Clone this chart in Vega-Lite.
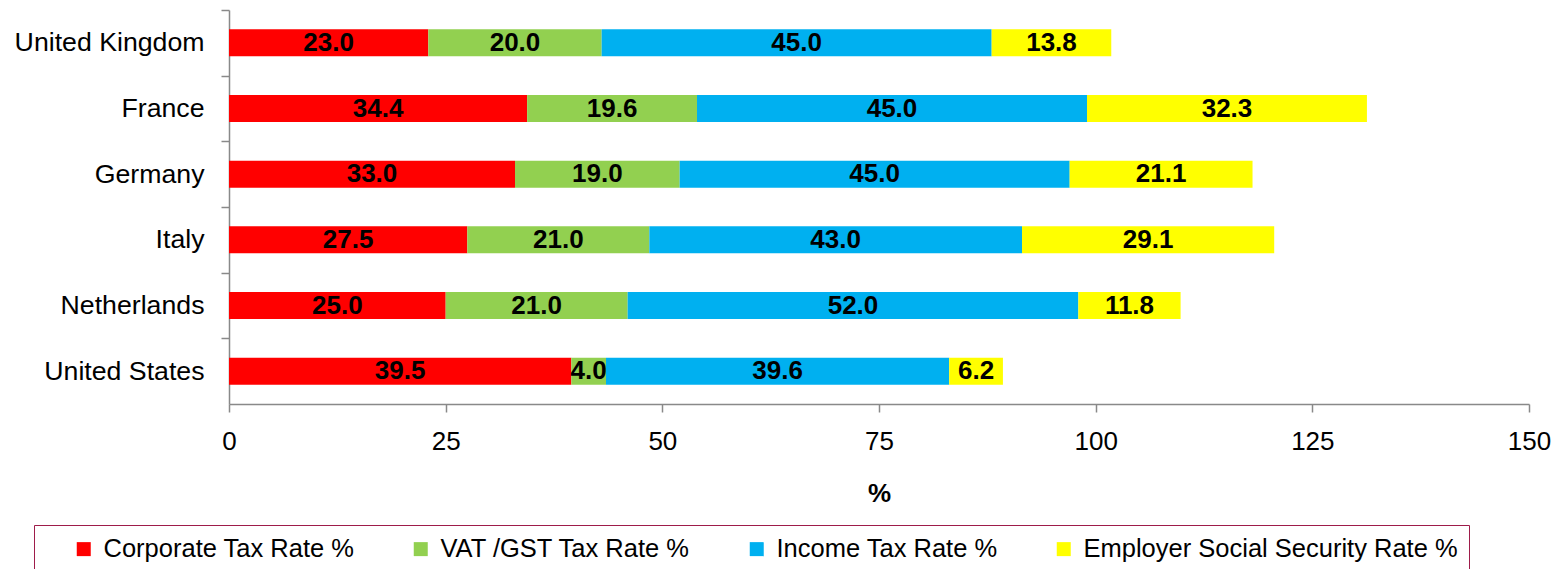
{
  "$schema": "https://vega.github.io/schema/vega-lite/v6.json",
  "autosize": {"type": "none"},
  "width": 1300,
  "height": 394,
  "padding": {"left": 229, "top": 10, "right": 29, "bottom": 165},
  "background": "white",
  "config": {
    "view": {"stroke": null},
    "font": "Liberation Sans",
    "axis": {
      "domainColor": "#898989",
      "domainWidth": 1.5,
      "tickColor": "#898989",
      "tickWidth": 1.5,
      "tickSize": 8,
      "grid": false,
      "labelFont": "Liberation Sans",
      "labelFontSize": 26,
      "labelColor": "#000000",
      "labelLimit": 400,
      "titleFont": "Liberation Sans",
      "titleColor": "#000000"
    },
    "legend": {
      "orient": "none",
      "legendX": -195,
      "legendY": 515,
      "direction": "horizontal",
      "padding": 11,
      "strokeColor": "#9E1C4A",
      "symbolType": "square",
      "symbolSize": 196,
      "symbolStrokeWidth": 0,
      "labelFont": "Liberation Sans",
      "labelFontSize": 25.5,
      "labelColor": "#000000",
      "labelOffset": 7,
      "labelLimit": 600,
      "columnPadding": 53,
      "titleOrient": "left",
      "titleFontSize": 1,
      "titlePadding": 26
    }
  },
  "data": {
    "values": [
      {"country": "United Kingdom", "tax": "Corporate Tax Rate %", "k": 1, "value": 23.0},
      {"country": "United Kingdom", "tax": "VAT /GST Tax Rate %", "k": 2, "value": 20.0},
      {"country": "United Kingdom", "tax": "Income Tax Rate %", "k": 3, "value": 45.0},
      {"country": "United Kingdom", "tax": "Employer Social Security Rate %", "k": 4, "value": 13.8},
      {"country": "France", "tax": "Corporate Tax Rate %", "k": 1, "value": 34.4},
      {"country": "France", "tax": "VAT /GST Tax Rate %", "k": 2, "value": 19.6},
      {"country": "France", "tax": "Income Tax Rate %", "k": 3, "value": 45.0},
      {"country": "France", "tax": "Employer Social Security Rate %", "k": 4, "value": 32.3},
      {"country": "Germany", "tax": "Corporate Tax Rate %", "k": 1, "value": 33.0},
      {"country": "Germany", "tax": "VAT /GST Tax Rate %", "k": 2, "value": 19.0},
      {"country": "Germany", "tax": "Income Tax Rate %", "k": 3, "value": 45.0},
      {"country": "Germany", "tax": "Employer Social Security Rate %", "k": 4, "value": 21.1},
      {"country": "Italy", "tax": "Corporate Tax Rate %", "k": 1, "value": 27.5},
      {"country": "Italy", "tax": "VAT /GST Tax Rate %", "k": 2, "value": 21.0},
      {"country": "Italy", "tax": "Income Tax Rate %", "k": 3, "value": 43.0},
      {"country": "Italy", "tax": "Employer Social Security Rate %", "k": 4, "value": 29.1},
      {"country": "Netherlands", "tax": "Corporate Tax Rate %", "k": 1, "value": 25.0},
      {"country": "Netherlands", "tax": "VAT /GST Tax Rate %", "k": 2, "value": 21.0},
      {"country": "Netherlands", "tax": "Income Tax Rate %", "k": 3, "value": 52.0},
      {"country": "Netherlands", "tax": "Employer Social Security Rate %", "k": 4, "value": 11.8},
      {"country": "United States", "tax": "Corporate Tax Rate %", "k": 1, "value": 39.5},
      {"country": "United States", "tax": "VAT /GST Tax Rate %", "k": 2, "value": 4.0},
      {"country": "United States", "tax": "Income Tax Rate %", "k": 3, "value": 39.6},
      {"country": "United States", "tax": "Employer Social Security Rate %", "k": 4, "value": 6.2}
    ]
  },
  "transform": [
    {"stack": "value", "groupby": ["country"], "sort": [{"field": "k", "order": "ascending"}], "as": ["x0", "x1"]},
    {"calculate": "(datum.x0 + datum.x1) / 2", "as": "mid"}
  ],
  "encoding": {
    "y": {
      "field": "country",
      "type": "nominal",
      "sort": ["United Kingdom", "France", "Germany", "Italy", "Netherlands", "United States"],
      "scale": {"paddingInner": 0.59, "paddingOuter": 0.295},
      "axis": {"title": null, "bandPosition": 0.5, "tickOffset": -32.83, "labelOffset": 32.83, "labelPadding": 17, "labelFontSize": 26.7}
    }
  },
  "layer": [
    {
      "mark": {"type": "bar"},
      "encoding": {
        "x": {
          "field": "x0",
          "type": "quantitative",
          "scale": {"domain": [0, 150], "nice": false},
          "axis": {
            "values": [0, 25, 50, 75, 100, 125, 150],
            "title": "%",
            "titleFontSize": 26,
            "titleFontWeight": "bold",
            "titlePadding": 26,
            "labelPadding": 16,
            "labelFlush": false
          }
        },
        "x2": {"field": "x1"},
        "color": {
          "field": "tax",
          "type": "nominal",
          "scale": {
            "domain": ["Corporate Tax Rate %", "VAT /GST Tax Rate %", "Income Tax Rate %", "Employer Social Security Rate %"],
            "range": ["#FF0000", "#92D050", "#00B0F0", "#FFFF00"]
          },
          "legend": {"title": "\u00a0"}
        }
      }
    },
    {
      "mark": {"type": "text", "fontSize": 26, "fontWeight": "bold", "color": "#000000", "align": "center", "baseline": "middle", "font": "Liberation Sans"},
      "encoding": {
        "x": {"field": "mid", "type": "quantitative"},
        "text": {"field": "value", "type": "quantitative", "format": ".1f"}
      }
    }
  ]
}
